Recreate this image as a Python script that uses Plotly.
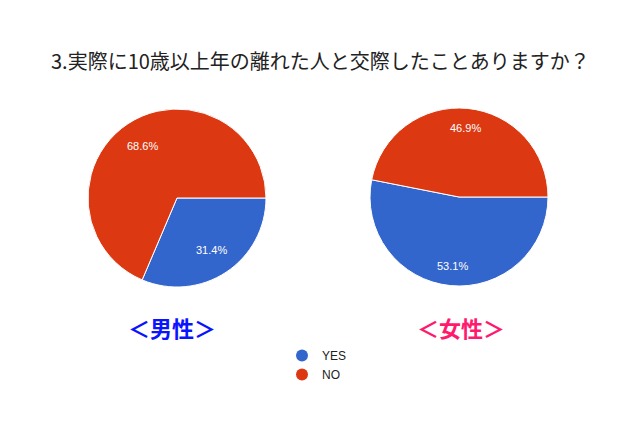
import math
import plotly.graph_objects as go

# chart data
answers = ["YES", "NO"]
male_pct = [31.4, 68.6]
female_pct = [53.1, 46.9]
colors = ["#3366cc", "#dc3912"]

title_text = "3.実際に10歳以上年の離れた人と交際したことありますか？"
male_label = "＜男性＞"
female_label = "＜女性＞"

# the page body has an 8px margin, so work in shifted pixel coords
OFF = 8
W, H = 640 - OFF, 427 - OFF
font_jp = "Noto Sans CJK JP"


def px(x):
    return (x - OFF) / W


def py(y):
    return 1 - (y - OFF) / H


fig = go.Figure()


def add_pie(values, cx, cy, r, text_r):
    fig.add_trace(go.Pie(
        labels=answers, values=values,
        sort=False, direction="clockwise", rotation=90,
        marker=dict(colors=colors, line=dict(color="white", width=1)),
        textinfo="none",
        domain=dict(x=[px(cx - r), px(cx + r)], y=[py(cy + r), py(cy - r)]),
        showlegend=False, hoverinfo="label+percent",
    ))
    # percentage labels, placed like the original (further out than plotly's)
    total = sum(values)
    start = 90.0
    for v in values:
        span = 360.0 * v / total
        mid = math.radians(start + span / 2)
        tx = cx + text_r * r * math.sin(mid)
        ty = cy - text_r * r * math.cos(mid)
        fig.add_annotation(text=f"{100 * v / total:.1f}%", x=px(tx), y=py(ty),
                           xref="paper", yref="paper", showarrow=False,
                           xanchor="center", yanchor="middle",
                           font=dict(family="Arial", size=11, color="white"))
        start += span


add_pie(male_pct, 177, 198, 89, 0.70)
add_pie(female_pct, 459, 197, 89, 0.78)

# legend with round markers, like the original
for name, c in zip(answers, colors):
    fig.add_trace(go.Scatter(
        x=[None], y=[None], mode="markers", name=name,
        marker=dict(symbol="circle", size=11, color=c),
    ))

fig.add_annotation(text=title_text, x=px(320), y=py(60), xref="paper", yref="paper",
                   xanchor="center", yanchor="middle", showarrow=False,
                   font=dict(family=font_jp, size=20, color="#222222"))
fig.add_annotation(text=f"<b>{male_label}</b>", x=px(172), y=py(327), xref="paper", yref="paper",
                   xanchor="center", yanchor="middle", showarrow=False,
                   font=dict(family=font_jp, size=22, color="#0a14ff"))
fig.add_annotation(text=f"<b>{female_label}</b>", x=px(461), y=py(327), xref="paper", yref="paper",
                   xanchor="center", yanchor="middle", showarrow=False,
                   font=dict(family=font_jp, size=22, color="#ff1a6e"))

fig.update_layout(
    width=W, height=H,
    margin=dict(l=0, r=0, t=0, b=0),
    paper_bgcolor="white", plot_bgcolor="white",
    xaxis=dict(visible=False), yaxis=dict(visible=False),
    legend=dict(x=px(282), y=py(341), xanchor="left", yanchor="top",
                font=dict(family="Arial", size=12, color="#222222"),
                itemsizing="constant", tracegroupgap=0),
)

fig.write_html("out.html")
